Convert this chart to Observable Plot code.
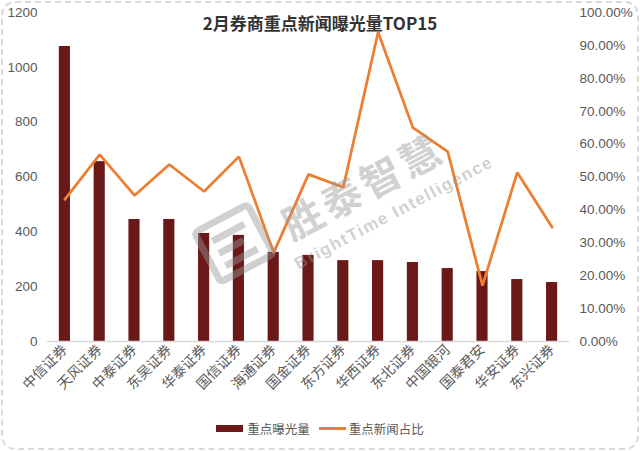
<!DOCTYPE html>
<html>
<head>
<meta charset="utf-8">
<script src="https://cdn.jsdelivr.net/npm/d3@7"></script>
<script src="https://cdn.jsdelivr.net/npm/@observablehq/plot@0.6"></script>
<style>
  html, body { margin: 0; padding: 0; background: #fff; }
  #wrap { position: relative; width: 640px; height: 451px; overflow: hidden; font-family: "Liberation Sans", "Noto Sans CJK SC", sans-serif; }
  #border { position: absolute; left: 1px; top: 1px; width: 638px; height: 449px; box-sizing: border-box; border: 2px dashed #d9d9d9; border-radius: 14px; pointer-events: none; }
  #title { position: absolute; left: 0; width: 640px; top: 10px; text-align: center; font: bold 17px "Noto Sans CJK SC", sans-serif; color: #333; }
  #chart { position: absolute; left: 0; top: 0; }
  #legend { position: absolute; left: 0; width: 640px; top: 419px; display: flex; justify-content: center; align-items: center; font: 12.5px "Noto Sans CJK SC", sans-serif; color: #595959; }
  .sw { display: inline-block; width: 27px; margin-right: 4px; }
  #wm { position: absolute; left: 0; top: 0; pointer-events: none; }
</style>
</head>
<body>
<div id="wrap">
  <div id="chart"></div>
  <div id="title">2月券商重点新闻曝光量TOP15</div>
  <div id="legend">
    <span class="sw" style="height:7px;background:#6a1818;"></span><span>重点曝光量</span>
    <span class="sw" style="height:3px;background:#ED7D31;margin-left:9px;margin-right:3px;"></span><span>重点新闻占比</span>
  </div>
  <svg id="wm" width="640" height="451">
    <g transform="translate(235,245) rotate(-28)" fill="none" stroke="rgba(150,150,150,0.45)" stroke-width="7">
      <rect x="-30" y="-30" width="60" height="56" rx="4"/>
      <path d="M-18,-14 H18 M-18,0 H10 M-18,14 H18"/>
    </g>
    <g transform="rotate(-28 370 200)" fill="rgba(150,150,150,0.45)">
      <text x="370" y="200" text-anchor="middle" font-family="Noto Sans CJK SC, sans-serif" font-weight="bold" font-size="40" letter-spacing="4">胜泰智慧</text>
      <text x="385" y="228" text-anchor="middle" font-family="Liberation Sans, sans-serif" font-weight="bold" font-size="17" letter-spacing="1.5">BrightTime Intelligence</text>
    </g>
  </svg>
  <div id="border"></div>
</div>
<script>
const brokers = ["中信证券","天风证券","中泰证券","东吴证券","华泰证券","国信证券","海通证券","国金证券","东方证券","华西证券","东北证券","中国银河","国泰君安","华安证券","东兴证券"];
const exposure = [1076, 656, 445, 445, 394, 387, 325, 314, 295, 295, 288, 266, 255, 226, 215];
const share = [43.2, 56.8, 44.4, 53.8, 45.6, 56.2, 27.0, 50.8, 46.9, 94.0, 65.0, 57.7, 17.0, 51.4, 34.7];
const leftTicks = [0, 200, 400, 600, 800, 1000, 1200];
const rightTicks = [0, 10, 20, 30, 40, 50, 60, 70, 80, 90, 100];

const Y_MAX = 1200;
const data = brokers.map((b, i) => ({broker: b, exposure: exposure[i], share: share[i], shareScaled: share[i] / 100 * Y_MAX}));

const chart = Plot.plot({
  width: 640,
  height: 412,
  marginTop: 12,
  marginBottom: 71,
  marginLeft: 47,
  marginRight: 71,
  style: {fontFamily: "Liberation Sans, sans-serif", fontSize: "13.5px", color: "#595959", background: "transparent"},
  x: {type: "band", domain: brokers, paddingInner: 0.68, paddingOuter: 0.34, round: false, label: null},
  y: {domain: [0, Y_MAX], label: null},
  marks: [
    Plot.barY(data, {x: "broker", y: "exposure", fill: "#6a1818"}),
    Plot.ruleY([0], {stroke: "#d9d9d9", strokeWidth: 1.5}),
    Plot.lineY(data, {x: "broker", y: "shareScaled", stroke: "#ED7D31", strokeWidth: 2.75, strokeLinejoin: "miter"}),
    Plot.axisY({anchor: "left", ticks: leftTicks, tickFormat: d => String(d), tickSize: 0, tickPadding: 10, label: null, fill: "#595959"}),
    Plot.axisY({anchor: "right", ticks: rightTicks.map(t => t / 100 * Y_MAX), tickFormat: d => (d / Y_MAX * 100).toFixed(2) + "%", tickSize: 0, tickPadding: 10, label: null, fill: "#595959"}),
    Plot.axisX({tickRotate: -45, tickSize: 0, tickPadding: 6, label: null, fontFamily: "Noto Sans CJK SC, sans-serif", fontSize: 14, fill: "#595959"})
  ]
});
document.getElementById("chart").appendChild(chart);
</script>
</body>
</html>
